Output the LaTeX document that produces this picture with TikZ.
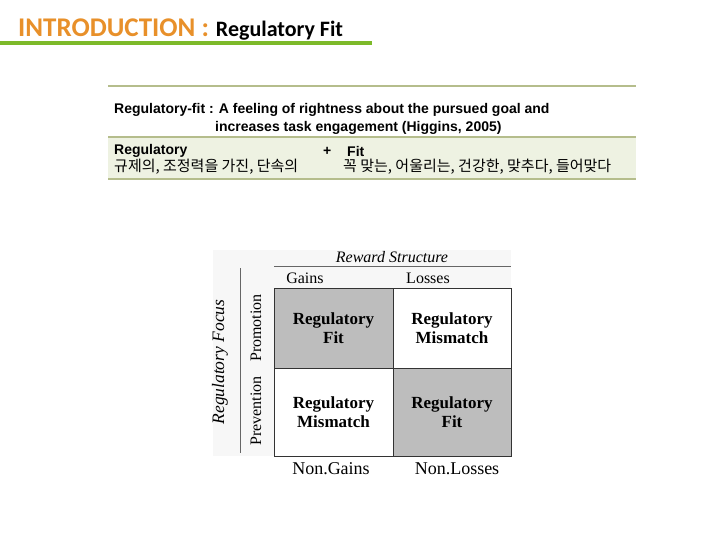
\documentclass[tikz,border=0pt]{standalone}
\usepackage{fontspec}
\setmainfont{Liberation Serif}
\newfontfamily\calfnt{Carlito}
\newfontfamily\ari{Liberation Sans}
\newfontfamily\kr{Noto Sans CJK KR}
\definecolor{ttl}{HTML}{E8902A}
\definecolor{bar}{HTML}{7DBA2A}
\definecolor{rule}{HTML}{B5BD8C}
\definecolor{band}{HTML}{EEF2E2}
\definecolor{cellg}{HTML}{BDBDBD}
\begin{document}
\begin{tikzpicture}[x=1pt,y=-1pt,
  cell/.style={draw=black!80,line width=0.8pt,minimum width=118pt,minimum height=84pt,inner sep=0pt,align=center,font=\bfseries\fontsize{17}{19}\selectfont},
  lab/.style={inner sep=0pt,font=\fontsize{16}{18}\selectfont},
  tx/.style={inner sep=0pt,anchor=west,font=\ari\fontsize{14}{16}\selectfont}]
\useasboundingbox (0,0) rectangle (720,540);
\node[anchor=base west,inner sep=0pt] (title) at (18,37) {\calfnt{\color{ttl}\bfseries\fontsize{27}{29}\selectfont INTRODUCTION :}\hspace{7pt}{\bfseries\fontsize{22}{25}\selectfont Regulatory Fit}};
\fill[bar] (0,41) rectangle (372,45);
% table
\draw[rule,line width=1.5pt] (108,86) -- (636,86);
\fill[band] (108,137) rectangle (636,179);
\draw[rule,line width=1.5pt] (108,137) -- (636,137);
\draw[rule,line width=1.5pt] (108,179) -- (636,179);
\node[tx] (d1) at (114,110) {\bfseries Regulatory-fit : A feeling of rightness about the pursued goal and};
\node[tx] (d2) at (215,128) {\bfseries increases task engagement (Higgins, 2005)};
\node[tx] (r1) at (114,151) {\bfseries Regulatory};
\node[tx] (p) at (323,151) {\bfseries +};
\node[tx] (f1) at (347,151) {\bfseries Fit};
\node[tx,font=\kr\fontsize{15}{16}\selectfont] (r2) at (114,167) {규제의, 조정력을 가진, 단속의};
\node[tx,font=\kr\fontsize{15}{16}\selectfont] (f2) at (343,167) {꼭 맞는, 어울리는, 건강한, 맞추다, 들어맞다};
% grid
\fill[black!3] (213,250) rectangle (511,456);
\node[cell,fill=cellg,minimum width=119pt,minimum height=80pt] (c11) at (333.5,328) {Regulatory\\Fit};
\node[cell,fill=white,minimum width=118pt,minimum height=80pt] (c12) at (452,328) {Regulatory\\Mismatch};
\node[cell,fill=white,minimum width=119pt,minimum height=88pt] (c21) at (333.5,412) {Regulatory\\Mismatch};
\node[cell,fill=cellg,minimum width=118pt,minimum height=88pt] (c22) at (452,412) {Regulatory\\Fit};
\node[lab,font=\itshape\fontsize{16}{18}\selectfont] (rs) at (392,257) {Reward Structure};
\coordinate (ra) at (274,266); \coordinate (rb) at (511,266);
\draw[black!60] (ra) -- (rb);
\node[lab] (g) at (305,278) {Gains};
\node[lab] (l) at (428,278) {Losses};
\coordinate (va) at (240,268); \coordinate (vb) at (240,453);
\draw[black!60] (va) -- (vb);
\node[lab,rotate=90] (pr) at (256,328) {Promotion};
\node[lab,rotate=90] (pv) at (256,411) {Prevention};
\node[lab,rotate=90,font=\itshape\fontsize{17.5}{19}\selectfont] (rf) at (220,362) {Regulatory Focus};
\node[lab,font=\fontsize{18}{20}\selectfont] (ng) at (331,469) {Non.Gains};
\node[lab,font=\fontsize{18}{20}\selectfont] (nl) at (457,469) {Non.Losses};
\end{tikzpicture}
\end{document}
